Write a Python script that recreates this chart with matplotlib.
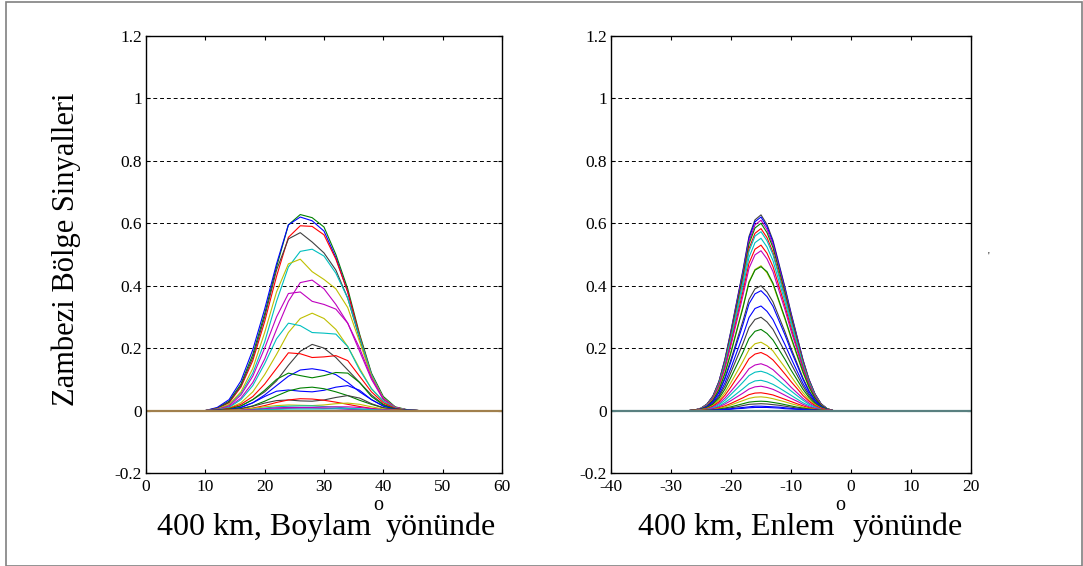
import matplotlib
matplotlib.use("Agg")
import matplotlib.pyplot as plt
from matplotlib.patches import Rectangle

plt.rcParams['font.family'] = ['Liberation Serif', 'DejaVu Serif']

# ---------------- data: left panel (longitude direction) ----------------
boylam_x = [10, 12, 14, 16, 18, 20, 22, 24, 26, 28, 30, 32, 34, 36, 38, 40, 42, 44, 46]
boylam_colors = ['g', 'b', 'r', 'k', 'c', 'y', 'm', 'm', 'y', 'c', 'k', 'r',
                 'b', 'g', 'b', 'g', 'k', 'r', 'y', 'c', 'm', 'm', 'c']
boylam_curves = [
    [0, .008, .03, .085, .18, .31, .46, .595, .628, .618, .588, .50, .39, .245, .12, .045, .012, .003, 0],
    [0, .01, .035, .095, .195, .325, .47, .595, .62, .608, .575, .49, .38, .235, .115, .04, .01, .002, 0],
    [0, .006, .025, .075, .16, .285, .43, .555, .592, .59, .563, .485, .38, .24, .115, .04, .01, .002, 0],
    [0, .007, .027, .08, .17, .30, .45, .55, .57, .54, .505, .45, .36, .23, .11, .04, .01, .002, 0],
    [0, .004, .018, .055, .12, .22, .35, .46, .51, .517, .495, .44, .36, .235, .115, .04, .01, .002, 0],
    [0, .005, .02, .06, .135, .25, .38, .47, .485, .445, .42, .39, .33, .22, .11, .04, .01, .002, 0],
    [0, .003, .012, .04, .09, .165, .26, .35, .41, .418, .39, .34, .28, .20, .105, .038, .01, .002, 0],
    [0, .004, .015, .05, .11, .20, .30, .375, .38, .35, .34, .325, .28, .19, .10, .035, .01, .002, 0],
    [0, .002, .008, .025, .06, .115, .18, .25, .295, .312, .295, .26, .205, .135, .07, .03, .008, .002, 0],
    [0, .003, .01, .035, .08, .15, .23, .28, .272, .25, .248, .245, .205, .13, .07, .03, .008, .002, 0],
    [0, .001, .005, .015, .035, .06, .095, .145, .19, .212, .20, .17, .13, .09, .05, .02, .006, .001, 0],
    [0, .002, .007, .02, .045, .085, .135, .185, .182, .17, .172, .176, .16, .11, .06, .025, .007, .001, 0],
    [0, .001, .003, .01, .025, .05, .08, .11, .13, .134, .128, .115, .09, .06, .035, .015, .005, .001, 0],
    [0, .001, .005, .015, .035, .065, .10, .12, .112, .105, .112, .122, .12, .09, .045, .018, .005, .001, 0],
    [0, .001, .003, .01, .025, .045, .062, .066, .062, .06, .065, .075, .08, .065, .035, .014, .004, .001, 0],
    [0, 0, .002, .006, .015, .03, .047, .063, .072, .075, .07, .06, .048, .033, .02, .009, .003, 0, 0],
    [0, 0, .002, .006, .014, .024, .032, .034, .031, .03, .034, .042, .048, .04, .022, .009, .003, 0, 0],
    [0, 0, .001, .003, .008, .016, .026, .034, .038, .037, .033, .027, .02, .013, .007, .003, .001, 0, 0],
    [0, 0, .001, .003, .007, .012, .016, .018, .017, .016, .018, .022, .024, .02, .012, .005, .002, 0, 0],
    [0, 0, 0, .001, .004, .008, .012, .014, .015, .015, .013, .011, .008, .005, .003, .001, 0, 0, 0],
    [0, 0, 0, .001, .003, .006, .009, .01, .01, .01, .011, .012, .012, .01, .006, .003, .001, 0, 0],
    [0, 0, 0, 0, .002, .004, .006, .007, .008, .008, .007, .006, .004, .003, .002, .001, 0, 0, 0],
    [0, 0, 0, 0, .001, .003, .004, .005, .005, .005, .005, .006, .006, .005, .003, .001, 0, 0, 0],
]
boylam_zero_x = [0, 60]
boylam_zero_y = [0, 0]

# ---------------- data: right panel (latitude direction) ----------------
enlem_x = [-27, -26, -25, -24, -23, -22, -21, -20, -19, -18, -17, -16, -15,
           -14, -13, -12, -11, -10, -9, -8, -7, -6, -5, -4, -3]
enlem_colors = ['k', 'b', 'm', 'g', 'r', 'c', 'c', 'r', 'm', 'y', 'g', 'k', 'b', 'b',
                'k', 'g', 'y', 'r', 'm', 'c', 'c', 'm', 'r', 'y', 'g', 'k', 'b', 'b']
enlem_curves = [
    [0, .002, .008, .021, .047, .094, .166, .257, .354, .451, .558, .611, .627, .596, .545, .470, .395, .314, .238, .163, .100, .053, .022, .006, 0],
    [0, .002, .007, .020, .047, .093, .164, .254, .350, .446, .552, .605, .620, .589, .539, .465, .391, .310, .236, .161, .099, .053, .022, .006, 0],
    [0, .002, .007, .020, .046, .092, .162, .250, .345, .439, .543, .595, .610, .580, .531, .458, .384, .305, .232, .159, .098, .052, .021, .006, 0],
    [0, .002, .007, .020, .045, .090, .159, .246, .339, .432, .534, .585, .600, .570, .522, .450, .378, .300, .228, .156, .096, .051, .021, .006, 0],
    [0, .002, .007, .019, .044, .087, .154, .239, .329, .420, .519, .568, .583, .554, .507, .437, .367, .292, .222, .152, .093, .050, .020, .006, 0],
    [0, .002, .007, .019, .043, .086, .152, .235, .324, .413, .510, .559, .573, .544, .499, .430, .361, .287, .218, .149, .092, .049, .020, .006, 0],
    [0, .002, .007, .018, .041, .083, .146, .226, .312, .397, .491, .538, .552, .524, .480, .414, .348, .276, .210, .144, .088, .047, .019, .006, 0],
    [0, .002, .006, .017, .040, .080, .140, .217, .299, .382, .472, .517, .530, .504, .461, .398, .334, .265, .201, .138, .085, .045, .019, .005, 0],
    [0, .002, .006, .017, .038, .077, .136, .210, .289, .369, .456, .499, .512, .486, .445, .384, .323, .256, .195, .133, .082, .044, .018, .005, 0],
    [0, .001, .006, .015, .035, .070, .123, .190, .262, .334, .413, .452, .464, .441, .404, .348, .292, .232, .176, .121, .074, .039, .016, .005, 0],
    [0, .001, .005, .014, .033, .067, .119, .186, .258, .330, .410, .450, .461, .445, .408, .352, .296, .236, .180, .124, .076, .040, .017, .005, 0],
    [0, .001, .005, .013, .030, .060, .106, .164, .226, .288, .356, .390, .400, .380, .348, .300, .252, .200, .152, .104, .064, .034, .014, .004, 0],
    [0, .001, .005, .013, .029, .058, .102, .157, .217, .276, .342, .374, .384, .365, .334, .288, .242, .192, .146, .100, .061, .033, .013, .004, 0],
    [0, .001, .004, .011, .025, .050, .089, .137, .189, .241, .298, .327, .335, .318, .291, .251, .211, .168, .127, .087, .054, .028, .012, .003, 0],
    [0, .001, .004, .010, .022, .045, .079, .123, .169, .215, .266, .292, .299, .284, .260, .224, .188, .150, .114, .078, .048, .025, .010, .003, 0],
    [0, .001, .003, .009, .020, .039, .069, .107, .147, .187, .231, .254, .260, .247, .226, .195, .164, .130, .099, .068, .042, .022, .009, .003, 0],
    [0, .001, .003, .007, .016, .033, .058, .090, .124, .158, .195, .214, .219, .208, .191, .164, .138, .110, .083, .057, .035, .019, .008, .002, 0],
    [0, .001, .002, .006, .014, .028, .049, .076, .105, .134, .166, .181, .186, .177, .162, .140, .117, .093, .071, .048, .030, .016, .007, .002, 0],
    [0, 0, .002, .005, .011, .023, .040, .062, .085, .108, .134, .146, .150, .143, .131, .113, .095, .075, .057, .039, .024, .013, .005, .002, 0],
    [0, 0, .002, .004, .009, .019, .033, .052, .071, .091, .112, .123, .126, .120, .110, .095, .079, .063, .048, .033, .020, .011, .004, .001, 0],
    [0, 0, .001, .003, .007, .015, .026, .040, .055, .070, .086, .095, .097, .092, .084, .073, .061, .049, .037, .025, .016, .008, .003, .001, 0],
    [0, 0, .001, .003, .006, .012, .021, .032, .044, .056, .069, .076, .078, .074, .068, .059, .049, .039, .030, .020, .012, .007, .003, .001, 0],
    [0, 0, .001, .002, .004, .009, .015, .023, .032, .041, .051, .056, .057, .054, .050, .043, .036, .029, .022, .015, .009, .005, .002, .001, 0],
    [0, 0, .001, .001, .003, .007, .012, .018, .025, .032, .039, .043, .044, .042, .038, .033, .028, .022, .017, .011, .007, .004, .002, 0, 0],
    [0, 0, 0, .001, .002, .005, .008, .012, .017, .022, .027, .029, .030, .029, .026, .023, .019, .015, .011, .008, .005, .003, .001, 0, 0],
    [0, 0, 0, .001, .002, .003, .006, .009, .012, .016, .020, .021, .022, .021, .019, .017, .014, .011, .008, .006, .004, .002, .001, 0, 0],
    [0, 0, 0, 0, .001, .002, .004, .006, .008, .010, .012, .014, .014, .013, .012, .011, .009, .007, .005, .004, .002, .001, 0, 0, 0],
    [0, 0, 0, 0, .001, .002, .003, .004, .006, .007, .009, .010, .010, .010, .009, .008, .006, .005, .004, .003, .002, .001, 0, 0, 0],
]
enlem_zero_x = [-40, 20]
enlem_zero_y = [0, 0]

y_ticks = [-0.2, 0, 0.2, 0.4, 0.6, 0.8, 1.0, 1.2]
y_ticklabels = ['-0.2', '0', '0.2', '0.4', '0.6', '0.8', '1', '1.2']
boylam_xticks = [0, 10, 20, 30, 40, 50, 60]
enlem_xticks = [-40, -30, -20, -10, 0, 10, 20]

matlab = {'b': (0, 0, 1), 'g': (0, 0.5, 0), 'r': (1, 0, 0), 'c': (0, 0.75, 0.75),
          'm': (0.75, 0, 0.75), 'y': (0.75, 0.75, 0), 'k': (0.25, 0.25, 0.25)}

W, H = 1083, 566
fig = plt.figure(figsize=(W / 100, H / 100), dpi=100)


def px_axes(l, t, r, b):
    return fig.add_axes([l / W, 1 - b / H, (r - l) / W, (b - t) / H])


ax1 = px_axes(146, 36, 502, 473)
ax2 = px_axes(611, 36, 971, 473)


def style(ax, xlim, xticks):
    ax.set_xlim(*xlim)
    ax.set_ylim(-0.2, 1.2)
    ax.set_xticks(xticks)
    ax.set_xticklabels([str(v) for v in xticks])
    ax.set_yticks(y_ticks)
    ax.set_yticklabels(y_ticklabels)
    ax.tick_params(direction='in', length=3, width=0.8, top=True, right=True,
                   labelsize=12.5, colors='black')
    ax.tick_params(axis='x', pad=4)
    ax.tick_params(axis='y', pad=3)
    for s in ax.spines.values():
        s.set_linewidth(1.0)
    for v in y_ticks[1:-1]:
        ax.axhline(v, color='black', lw=0.7, ls=(0, (4, 3)), zorder=0.5)


style(ax1, (0, 60), boylam_xticks)
style(ax2, (-40, 20), enlem_xticks)

for col, ys in zip(boylam_colors, boylam_curves):
    ax1.plot(boylam_x, ys, color=matlab[col], lw=0.8)
ax1.plot(boylam_zero_x, boylam_zero_y, color=(0.63, 0.5, 0.3), lw=1.6)

for col, ys in zip(enlem_colors, enlem_curves):
    ax2.plot(enlem_x, ys, color=matlab[col], lw=0.8)
ax2.plot(enlem_zero_x, enlem_zero_y, color=(0.35, 0.5, 0.5), lw=1.6)


def ftext(x, y, s, **kw):
    fig.text(x / W, 1 - y / H, s, **kw)


ftext(66, 249, 'Zambezi Bölge Sinyalleri', rotation=90, ha='center', va='center', fontsize=22)
ftext(157, 535, '400 km, Boylam', ha='left', va='baseline', fontsize=23)
ftext(373, 510, 'o', ha='left', va='baseline', fontsize=14.5)
ftext(386, 535, 'yönünde', ha='left', va='baseline', fontsize=23)
ftext(638, 535, '400 km, Enlem', ha='left', va='baseline', fontsize=23)
ftext(835, 510, 'o', ha='left', va='baseline', fontsize=14.5)
ftext(853, 535, 'yönünde', ha='left', va='baseline', fontsize=23)
ftext(988, 256, "'", ha='center', va='center', fontsize=7)

fig.patches.append(Rectangle((6 / W, 0), (1082 - 6) / W, (H - 2) / H, transform=fig.transFigure,
                             fill=False, edgecolor='#808080', lw=1.2))

fig.savefig('out.png', dpi=100)
